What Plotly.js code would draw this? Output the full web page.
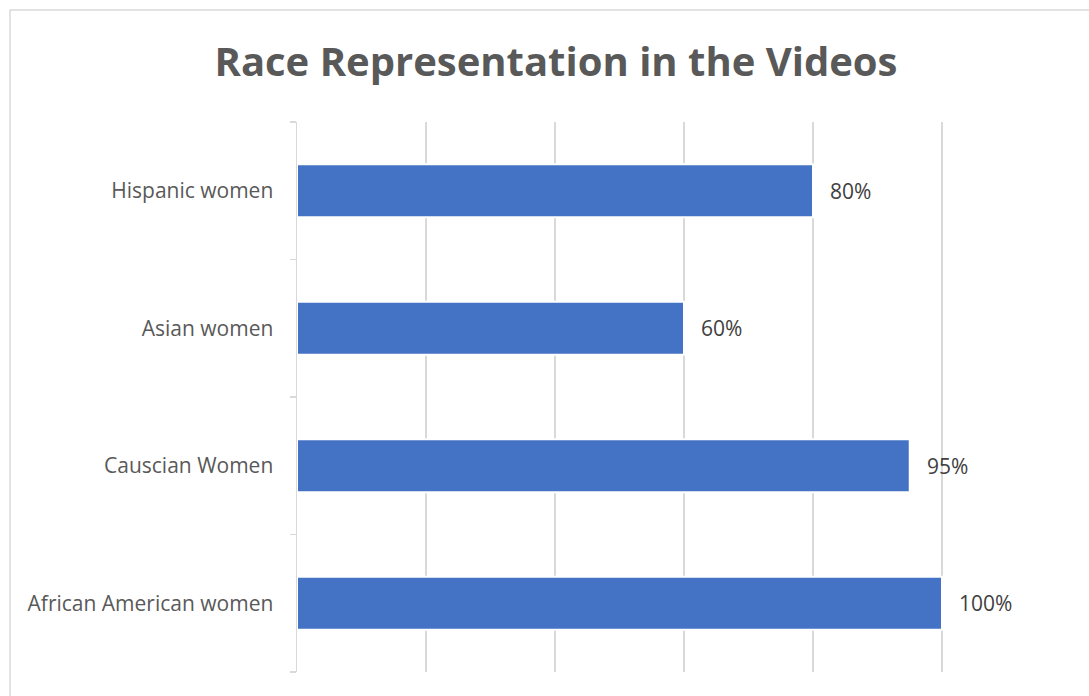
<!DOCTYPE html>
<html>
<head>
<meta charset="utf-8">
<script src="https://cdn.plot.ly/plotly-3.0.1.min.js"></script>
<style>html,body{margin:0;padding:0;background:#fff;} #chart{width:1089px;height:696px;}</style>
</head>
<body>
<div id="chart"></div>
<script>
const categories = ['African American women', 'Causcian Women', 'Asian women', 'Hispanic women'];
const values = [100, 95, 60, 80];
const valueLabels = ['100%', '95%', '60%', '80%'];
const xTicks = [0, 20, 40, 60, 80, 100, 120];

const trace = {
  type: 'bar',
  orientation: 'h',
  y: categories,
  x: values,
  width: 0.385,
  marker: {color: '#4472C4', line: {color: '#ffffff', width: 2}},
  hoverinfo: 'none'
};

const annotations = categories.map((c, i) => ({
  x: values[i], y: c, xref: 'x', yref: 'y',
  text: valueLabels[i], showarrow: false,
  xanchor: 'left', yanchor: 'middle', xshift: 15,
  font: {family: 'Open Sans, sans-serif', size: 21, color: '#404040'}
}));

const pw = 774, ph = 550, ml = 297, mt = 122;
function px(x){ return (x - ml) / pw; }
function py(y){ return (mt + ph - y) / ph; }

const layout = {
  width: 1089, height: 696,
  margin: {l: ml, r: 1089 - ml - pw, t: mt, b: 696 - mt - ph, pad: 0},
  paper_bgcolor: '#ffffff', plot_bgcolor: '#ffffff',
  showlegend: false,
  title: {
    text: '<b>Race Representation in the Videos</b>',
    font: {family: 'Open Sans, sans-serif', size: 40, color: '#595959'},
    xref: 'container', yref: 'container', x: 556/1089, y: 1 - 62/696,
    xanchor: 'center', yanchor: 'middle'
  },
  xaxis: {
    range: [0, 120], tickvals: xTicks, showticklabels: false,
    showgrid: true, gridcolor: '#d9d9d9', gridwidth: 1.5,
    zeroline: false, showline: false, ticks: '', fixedrange: true
  },
  yaxis: {
    type: 'category', categoryorder: 'array', categoryarray: categories,
    showline: true, linecolor: '#d9d9d9', linewidth: 1.5,
    ticks: 'outside', tickson: 'boundaries', ticklen: 6, tickcolor: '#d9d9d9', tickwidth: 1.5,
    ticklabelstandoff: 18,
    tickfont: {family: 'Open Sans, sans-serif', size: 21, color: '#595959'},
    showgrid: false, zeroline: false, fixedrange: true
  },
  annotations: annotations,
  shapes: [{
    type: 'rect', xref: 'paper', yref: 'paper', layer: 'below',
    x0: px(10), x1: px(1100), y0: py(705), y1: py(10),
    line: {color: '#d9d9d9', width: 1.5}, fillcolor: 'rgba(0,0,0,0)'
  }]
};

Plotly.newPlot('chart', [trace], layout, {displayModeBar: false, staticPlot: true});
</script>
</body>
</html>
